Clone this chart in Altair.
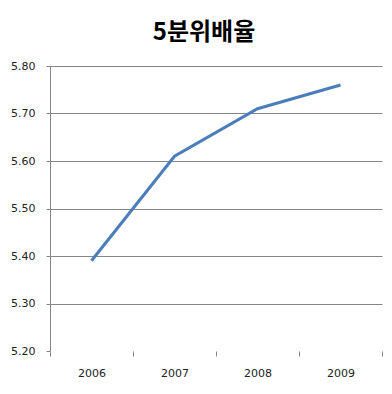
import altair as alt
import pandas as pd

years = [2006, 2007, 2008, 2009]
values = [5.39, 5.61, 5.71, 5.76]
y_ticks = [5.20, 5.30, 5.40, 5.50, 5.60, 5.70, 5.80]
title_text = "5분위배율"

df = pd.DataFrame({"year": years, "value": values})
x_bounds = [y - 0.5 for y in years] + [years[-1] + 0.5]

GRAY = "#868686"

chart = alt.Chart(df).mark_line(color="#4a7ebb", strokeWidth=3).encode(
    x=alt.X(
        "year:Q",
        scale=alt.Scale(domain=[x_bounds[0], x_bounds[-1]], nice=False, zero=False),
        axis=alt.Axis(
            values=x_bounds,
            labelExpr="datum.value < %d ? format(datum.value + 0.5, 'd') : ''" % years[-1],
            labelOffset=41.5,
            labelFlush=False,
            domain=False,
            grid=False,
            ticks=True,
            tickColor=GRAY,
            tickSize=5,
            labelPadding=11,
            labelFont="DejaVu Sans",
            labelFontSize=11,
            labelColor="#222222",
            title=None,
        ),
    ),
    y=alt.Y(
        "value:Q",
        scale=alt.Scale(domain=[y_ticks[0], y_ticks[-1]], nice=False, zero=False),
        axis=alt.Axis(
            values=y_ticks,
            format=".2f",
            domain=True,
            domainColor=GRAY,
            grid=True,
            gridColor={"condition": {"test": "datum.value < 5.25", "value": "transparent"}, "value": GRAY},
            gridOpacity=1,
            tickColor=GRAY,
            tickSize=4,
            labelPadding=11,
            labelFont="DejaVu Sans",
            labelFontSize=11,
            labelColor="#222222",
            title=None,
        ),
    ),
).properties(
    width=332,
    height=285,
    title=alt.TitleParams(
        title_text,
        font="Noto Sans CJK KR",
        fontSize=24,
        fontWeight="bold",
        color="#000000",
        anchor="middle",
        dx=-12,
        offset=15,
    ),
    autosize=alt.AutoSizeParams(type="none"),
    padding={"left": 42, "top": 58, "right": 2, "bottom": 30},
).configure_view(stroke=None)

chart.save("out.html", embed_options={"renderer": "svg", "actions": False})
